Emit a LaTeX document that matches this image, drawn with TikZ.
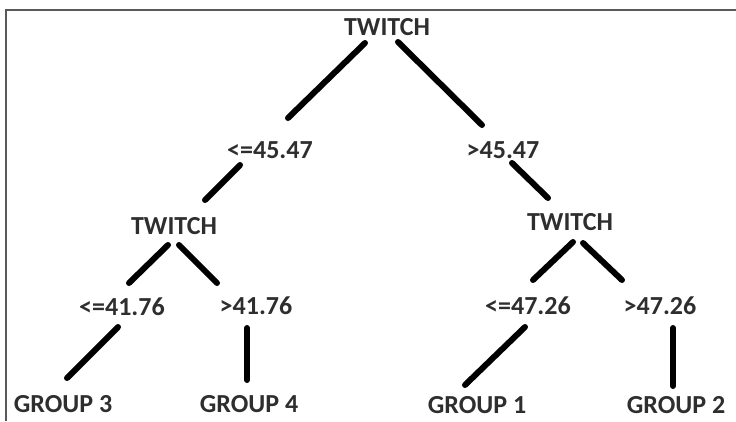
\documentclass[tikz,border=0pt]{standalone}
\usepackage{fontspec}
\setmainfont{Carlito}
\usetikzlibrary{calc,positioning}

\begin{document}
\begin{tikzpicture}[
                x=1pt,y=-1pt,
                lbl/.style={inner sep=0pt,text=black!82,font=\fontsize{26}{30}\selectfont\bfseries},
                edge/.style={line width=6pt,line cap=round},
                frame/.style={draw=black!65,line width=1.4pt}
            ]
                \useasboundingbox (0,0) rectangle (736,421);
                \draw[frame] (6,421) -- (6,10) -- (736,10);

                \node[lbl] (root) at (387,27)  {TWITCH};
                \node[lbl] (lo1)  at (270,150) {<=45.47};
                \node[lbl] (hi1)  at (503,150) {>45.47};
                \node[lbl] (tl)   at (174,226) {TWITCH};
                \node[lbl] (tr)   at (570,222) {TWITCH};

                \node[lbl] (lo2)  at (122,307) {<=41.76};
                \node[lbl] (hi2)  at (256,306) {>41.76};
                \node[lbl] (lo3)  at (528,306) {<=47.26};
                \node[lbl] (hi3)  at (660,306) {>47.26};

                \node[lbl] (g3)   at (63,404)  {GROUP 3};
                \node[lbl] (g4)   at (249,404) {GROUP 4};
                \node[lbl] (g1)   at (477,405) {GROUP 1};
                \node[lbl] (g2)   at (676,405) {GROUP 2};

                \begin{scope}[edge]
                    \draw ($(root)+(-22,16)$) -- ($(lo1)+(18,-32)$);
                    \draw ($(root)+(11,15)$)  -- ($(hi1)+(-21,-25)$);
                    \draw ($(lo1)+(-30,15)$)  -- ($(tl)+(31,-26)$);
                    \draw ($(hi1)+(9,13)$)    -- ($(tr)+(-22,-24)$);

                    \draw ($(tl)+(-6,19)$)    -- ($(lo2)+(7,-24)$);
                    \draw ($(tl)+(5,19)$)     -- ($(hi2)+(-39,-23)$);
                    \draw ($(tr)+(3,20)$)     -- ($(lo3)+(5,-26)$);
                    \draw ($(tr)+(13,21)$)    -- ($(hi3)+(-38,-26)$);

                    \draw ($(lo2)+(-4,20)$)   -- ($(g3)+(4,-26)$);
                    \draw ($(hi2)+(-9,22)$)   -- ($(g4)+(-2,-24)$);
                    \draw ($(lo3)+(-3,21)$)   -- ($(g1)+(-12,-20)$);
                    \draw ($(hi3)+(13,22)$)   -- ($(g2)+(-3,-19)$);
                \end{scope}
            \end{tikzpicture}
\end{document}
